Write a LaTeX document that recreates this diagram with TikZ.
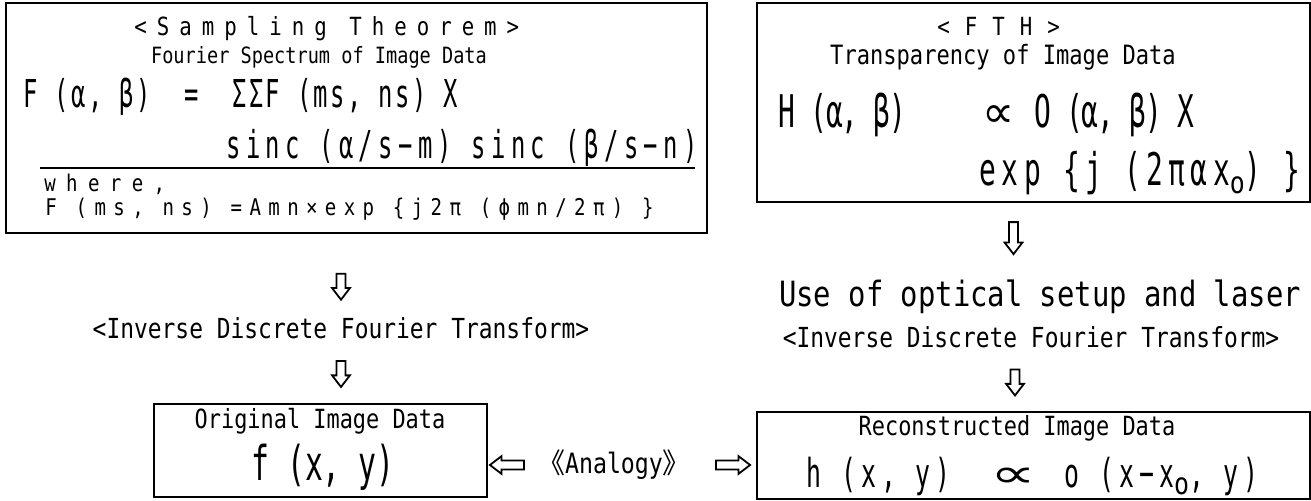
\documentclass[tikz,border=0pt]{standalone}
\usepackage{fontspec}
\usepackage{graphicx}
\setmainfont{DejaVu Sans Mono}
\newfontfamily\gothic[FakeStretch=0.83]{DejaVu Sans Mono}
\newfontfamily\tall[FakeStretch=0.62]{DejaVu Sans Mono}
\newfontfamily\symfont{DejaVu Sans}
\newfontfamily\cjkfont{Noto Sans CJK JP}
\usetikzlibrary{shapes.arrows, positioning, calc, fit}

\newcommand{\fsz}[1]{\fontsize{#1pt}{#1pt}\selectfont}
\newcommand{\spaced}[1]{\addfontfeatures{LetterSpace=#1}}
\newcommand{\lowo}{\raisebox{-0.18em}{\gothic\fsz{15}o}}
\newcommand{\propsym}[1]{{\symfont\scalebox{#1}[1]{∝}}}

\tikzset{
  frame/.style={draw, line width=1pt, inner sep=0pt},
  txt/.style={inner sep=0pt},
  downarrow/.style={single arrow, draw, line width=0.9pt, fill=white, inner sep=1.8pt,
    minimum height=13pt, single arrow head extend=2.2pt,
    single arrow tip angle=75, shape border rotate=270},
  siderarrow/.style={downarrow, minimum height=17pt, shape border rotate=#1},
}

\begin{document}
\begin{tikzpicture}[x=0.5pt, y=-0.5pt]
  \useasboundingbox (0,0) rectangle (1311,501);

  % --- Box 1: sampling theorem ---
  \node[frame, fit={(6,3) (707,233)}] (sampling) {};
  \node[txt, anchor=west, font=\gothic\fsz{12.5}\spaced{40}] (stitle) at (134,29) {<Sampling Theorem>};
  \node[txt, font=\gothic\fsz{11.2}] (fspec) at (319,57) {Fourier Spectrum of Image Data};
  \node[txt, anchor=west, font=\tall\fsz{19.2}\spaced{6.5}] (eqa) at (23,97)
       {F (α, β)~~=~~ΣΣF (ms, ns) X};
  \node[txt, anchor=west, font=\tall\fsz{19.2}\spaced{14}] (eqb) at (226,147)
       {sinc (α/s−m) sinc (β/s−n)};
  \draw[line width=0.8pt] (40,168) -- (695,168);
  \node[txt, anchor=west, font=\gothic\fsz{11.5}\spaced{45}] (where) at (44,184) {where,};
  \node[txt, anchor=west, font=\gothic\fsz{11.5}\spaced{32}] (fms) at (45,209)
       {F (ms, ns) =Amn×exp \{j2π (ϕmn/2π) \}};

  % --- Box 2: FTH ---
  \node[frame, fit={(757,3) (1310,202)}] (fth) {};
  \node[txt, anchor=west, font=\gothic\fsz{12.5}\spaced{60}] (fthtitle) at (937,26) {<FTH>};
  \node[txt, font=\gothic\fsz{13.3}] (transp) at (1003,57) {Transparency of Image Data};
  \node[txt, anchor=west, font=\tall\fsz{22.5}\spaced{-3}] (eqc) at (778,115)
       {H (α, β)\hspace{38pt}\propsym{1}\hspace{10pt}O (α, β) X};
  \node[txt, anchor=east, font=\tall\fsz{22.5}\spaced{12}] (eqd) at (1301,173)
       {exp \{j (2παx\lowo) \}};

  % --- Right column ---
  \node[txt, font=\gothic\fsz{17.4}] (optics) at (1040,297) {Use of optical setup and laser};
  \node[txt, font=\gothic\fsz{13.8}] (idftr) at (1031,337) {<Inverse Discrete Fourier Transform>};
  \node[frame, fit={(757,412) (1310,499)}] (recon) {};
  \node[txt, font=\gothic\fsz{13.2}] (reclabel) at (1017,428) {Reconstructed Image Data};
  \node[txt, anchor=west, font=\tall\fsz{20}\spaced{12.5}] (eqf) at (806,476)
       {h (x, y)\hspace{20pt}\propsym{1.6}\hspace{14pt}o~(x−x\lowo, y)};

  % --- Left column ---
  \node[txt, font=\gothic\fsz{13.8}] (idftl) at (341,328) {<Inverse Discrete Fourier Transform>};
  \node[frame, fit={(154,404) (487,497)}] (orig) {};
  \node[txt, font=\gothic\fsz{13.2}] (origlabel) at (320,421) {Original Image Data};
  \node[txt, font=\tall\fsz{24}] (eqe) at (323,467) {f (x, y)};

  % --- Analogy ---
  \node[txt, font=\gothic\fsz{14}] (analogy) at (614,465) {{\cjkfont 《}Analogy{\cjkfont 》}};

  % hollow arrows
  \path (sampling.south -| idftl.north) -- node[downarrow, pos=0.6] {} (idftl.north);
  \path (idftl.south) -- node[downarrow] {} (idftl.south |- orig.north);
  \coordinate (ra) at ($(fth.south)+(-20,0)$);
  \path (ra) -- node[downarrow, pos=0.42, minimum height=16pt] {} (ra |- optics.north);
  \coordinate (rb) at ($(idftr.south)+(-16,0)$);
  \path (rb) -- node[downarrow] {} (rb |- recon.north);
  \path (orig.east |- analogy.west) -- node[siderarrow=180, pos=0.45] {} (analogy.west);
  \path (analogy.east) -- node[siderarrow=0, pos=0.6] {} (analogy.east -| recon.west);
\end{tikzpicture}
\end{document}
